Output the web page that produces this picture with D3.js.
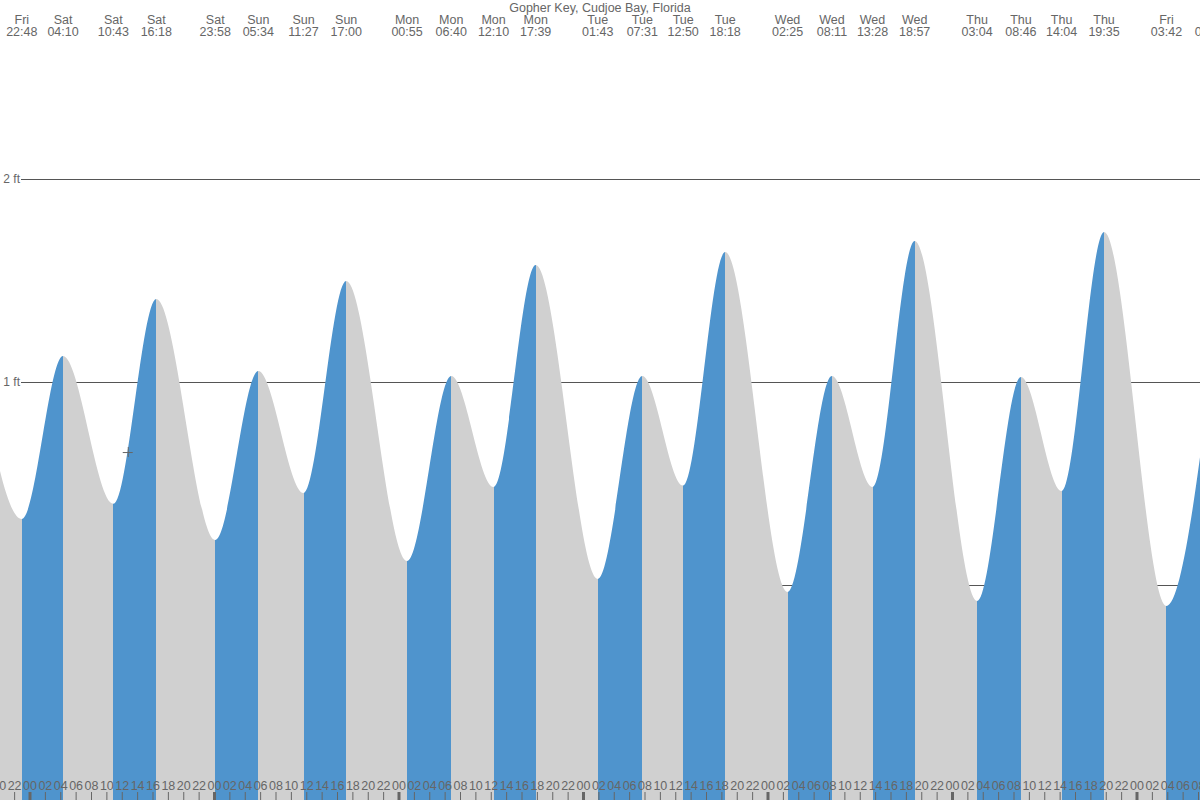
<!DOCTYPE html>
<html>
<head>
<meta charset="utf-8">
<script src="https://cdn.jsdelivr.net/npm/d3@7"></script>
<style>
  body { margin: 0; background: #fff; }
  text { font-family: "Liberation Sans", Arial, sans-serif; fill: #666; }
</style>
</head>
<body>
<svg id="chart" width="1200" height="800"></svg>
<script>
// tide extremes: day, time, height in ft (first and last ones are outside the view)
var days = ['Fri', 'Sat', 'Sun', 'Mon', 'Tue', 'Wed', 'Thu', 'Fri'];
var eventTime = ['16:40', '22:48', '04:10', '10:43', '16:18', '23:58', '05:34', '11:27', '17:00',
  '00:55', '06:40', '12:10', '17:39', '01:43', '07:31', '12:50', '18:18',
  '02:25', '08:11', '13:28', '18:57', '03:04', '08:46', '14:04', '19:35', '03:42', '09:25'];
var eventDay = [0, 0, 1, 1, 1, 1, 2, 2, 2, 3, 3, 3, 3, 4, 4, 4, 4, 5, 5, 5, 5, 6, 6, 6, 6, 7, 7];
var eventHeight = [1.2, 0.325, 1.128, 0.40, 1.409, 0.222, 1.054, 0.453, 1.498,
  0.118, 1.03, 0.483, 1.576, 0.03, 1.03, 0.49, 1.64,
  -0.034, 1.03, 0.483, 1.695, -0.079, 1.025, 0.463, 1.739, -0.103, 1.02];
var gridFeet = [0, 1, 2];
var nowMark = { day: 1, time: '12:35', h: 0.655 };
var title = 'Gopher Key, Cudjoe Bay, Florida';

function hoursOf(day, time) {
  var p = time.split(':');
  return day * 24 + (+p[0]) + (+p[1]) / 60;
}

var events = eventTime.map(function(t, i) {
  return { day: eventDay[i], time: t, hours: hoursOf(eventDay[i], t), h: eventHeight[i] };
});

var W = 1200, H = 800;
var pxPerHour = 184.5 / 24;
var x = d3.scaleLinear()
  .domain([24 - 29.5 / pxPerHour, 24 + (W - 29.5) / pxPerHour])
  .range([0, W]);
// the tide drawing sits a touch to the right of the hour ticks
var xTide = x.copy().range([1.5, W + 1.5]);
var y = d3.scaleLinear()
  .domain([0, 2])
  .range([585, 179]);

var svg = d3.select('#chart');

// grid lines behind the tide
var grid = svg.append('g').attr('class', 'grid');
grid.selectAll('line')
  .data(gridFeet)
  .enter().append('line')
    .attr('x1', 21)
    .attr('x2', W)
    .attr('y1', function(d) { return y(d) + 0.5; })
    .attr('y2', function(d) { return y(d) + 0.5; })
    .attr('stroke', '#555')
    .attr('stroke-width', 1);
grid.selectAll('text')
  .data(gridFeet)
  .enter().append('text')
    .attr('x', 20)
    .attr('y', function(d) { return y(d) + 4; })
    .attr('text-anchor', 'end')
    .style('font-size', '12px')
    .text(function(d) { return d + ' ft'; });

// tide area used as clip
var area = d3.area()
  .curve(d3.curveMonotoneX)
  .x(function(d) { return xTide(d.hours); })
  .y0(H)
  .y1(function(d) { return y(d.h); });

svg.append('clipPath')
  .attr('id', 'tideClip')
  .append('path')
    .datum(events)
    .attr('d', area);

var segments = d3.pairs(events);
svg.append('g')
  .attr('clip-path', 'url(#tideClip)')
  .selectAll('rect')
  .data(segments)
  .enter().append('rect')
    .attr('x', function(d) { return xTide(d[0].hours); })
    .attr('width', function(d) { return xTide(d[1].hours) - xTide(d[0].hours); })
    .attr('y', 0)
    .attr('height', H)
    .attr('fill', function(d) { return d[1].h > d[0].h ? '#4f94cd' : '#d0d0d0'; })
    .attr('shape-rendering', 'crispEdges');

// current time marker
var nx = xTide(hoursOf(nowMark.day, nowMark.time)), ny = y(nowMark.h);
svg.append('path')
  .attr('d', 'M' + (nx - 5) + ',' + (ny + 0.5) + 'H' + (nx + 5) + 'M' + (nx + 0.5) + ',' + (ny - 5) + 'V' + (ny + 5))
  .attr('stroke', '#666')
  .attr('stroke-width', 1);

// hour axis at the bottom
var hourTicks = d3.range(20, x.domain()[1] + 1, 2);
var axis = d3.axisTop(x)
  .tickValues(hourTicks)
  .tickSize(8)
  .tickPadding(2)
  .tickFormat(function(d) { return d3.format('02d')(d % 24); });

var ax = svg.append('g')
  .attr('transform', 'translate(0,' + H + ')')
  .call(axis);
ax.select('.domain').remove();
ax.selectAll('.tick line')
  .attr('stroke', '#666')
  .attr('stroke-width', function(d) { return d % 24 === 0 ? 3 : 1; });
ax.selectAll('.tick text')
  .attr('fill', '#666')
  .style('font-family', '"Liberation Sans", Arial, sans-serif')
  .style('font-size', '12.5px');

// high / low labels on top
var labels = svg.append('g').attr('class', 'labels')
  .selectAll('g')
  .data(events)
  .enter().append('g')
    .attr('transform', function(d) { return 'translate(' + xTide(d.hours) + ',0)'; });
labels.append('text')
  .attr('y', 24)
  .attr('text-anchor', 'middle')
  .style('font-size', '12.5px')
  .text(function(d) { return days[d.day]; });
labels.append('text')
  .attr('y', 36)
  .attr('text-anchor', 'middle')
  .style('font-size', '12.5px')
  .text(function(d) { return d.time; });

svg.append('text')
  .attr('x', W / 2)
  .attr('y', 12)
  .attr('text-anchor', 'middle')
  .style('font-size', '12.5px')
  .text(title);
</script>
</body>
</html>
